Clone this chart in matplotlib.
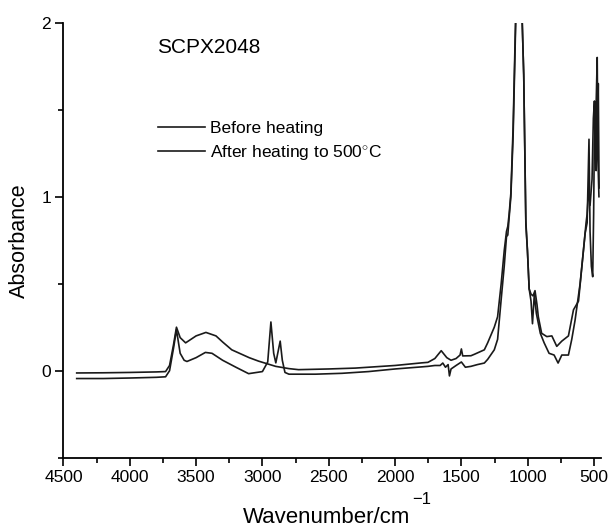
import numpy as np
import matplotlib
matplotlib.use("Agg")
import matplotlib.pyplot as plt
from matplotlib.ticker import MultipleLocator

plt.rcParams['font.family'] = ['Liberation Sans', 'DejaVu Sans']
plt.rcParams['mathtext.fontset'] = 'custom'
plt.rcParams['mathtext.rm'] = 'Liberation Sans'
plt.rcParams['mathtext.it'] = 'Liberation Sans'

# Before heating (with C-H bands near 2900)
before_wn = [4400, 4200, 4000, 3800, 3730, 3700, 3670, 3648, 3620, 3590, 3569, 3500, 3430,
             3380, 3300, 3200, 3104, 3000, 2960, 2936, 2915, 2899, 2866, 2850, 2830, 2800,
             2600, 2400, 2200, 2000, 1800, 1752, 1700, 1660, 1640, 1620, 1600, 1590, 1578,
             1540, 1500, 1470, 1428, 1380, 1327, 1302, 1252, 1227, 1200, 1177, 1160, 1150,
             1140, 1127, 1110, 1095, 1088, 1045, 1030, 1014, 1002, 989, 975, 964, 950, 935,
             905, 876, 839, 801, 771, 743, 693, 668, 643, 605, 567, 552, 538, 530, 520, 510,
             503, 498, 490, 484, 478, 470, 463]
before_abs = [-0.045, -0.045, -0.042, -0.038, -0.035, 0.0, 0.13, 0.235, 0.1, 0.06, 0.053, 0.075, 0.105,
              0.1, 0.06, 0.02, -0.017, -0.005, 0.05, 0.28, 0.1, 0.045, 0.17, 0.06, -0.01, -0.02,
              -0.02, -0.015, -0.005, 0.01, 0.022, 0.025, 0.03, 0.03, 0.044, 0.02, 0.035, -0.03, 0.01,
              0.03, 0.05, 0.02, 0.025, 0.035, 0.044, 0.065, 0.12, 0.18, 0.41, 0.6, 0.77, 0.78,
              0.88, 1.0, 1.35, 1.85, 2.1, 2.1, 1.7, 0.84, 0.69, 0.47, 0.4, 0.27, 0.44, 0.33,
              0.215, 0.16, 0.1, 0.09, 0.044, 0.09, 0.09, 0.18, 0.29, 0.5, 0.79, 0.85, 1.33, 0.8, 0.6, 0.54,
              0.9, 1.3, 1.45, 1.15, 1.5, 1.2, 1.0]

# After heating to 500 C (larger O-H hump, no C-H bands)
after_wn = [4400, 4200, 4000, 3800, 3730, 3700, 3670, 3648, 3620, 3579, 3500, 3426, 3350,
            3300, 3231, 3100, 3029, 2900, 2800, 2728, 2500, 2300, 2000, 1800, 1752, 1700,
            1652, 1610, 1578, 1540, 1510, 1500, 1490, 1428, 1400, 1327, 1302, 1252, 1227,
            1200, 1177, 1160, 1150, 1140, 1127, 1110, 1095, 1088, 1045, 1030, 1014, 1002,
            989, 975, 960, 945, 930, 920, 895, 856, 818, 781, 743, 693, 655, 617, 580, 560,
            552, 540, 530, 515, 505, 497, 490, 482, 476, 472, 468, 462]
after_abs = [-0.013, -0.012, -0.01, -0.007, -0.005, 0.03, 0.15, 0.25, 0.19, 0.16, 0.2, 0.22, 0.2,
             0.165, 0.12, 0.075, 0.055, 0.025, 0.012, 0.006, 0.01, 0.015, 0.03, 0.045, 0.048, 0.07,
             0.115, 0.075, 0.06, 0.07, 0.09, 0.125, 0.085, 0.086, 0.095, 0.12, 0.16, 0.25, 0.31,
             0.5, 0.69, 0.8, 0.83, 0.9, 1.02, 1.4, 1.9, 2.1, 2.1, 1.7, 0.86, 0.69,
             0.47, 0.44, 0.43, 0.46, 0.38, 0.31, 0.215, 0.196, 0.2, 0.14, 0.17, 0.2, 0.35, 0.4, 0.69, 0.85,
             0.9, 1.05, 0.95, 1.1, 1.45, 1.55, 1.35, 1.6, 1.8, 1.4, 1.65, 1.05]

fig = plt.figure(figsize=(6.1, 5.3), dpi=100)
ax = fig.add_axes([0.104, 0.1364, 0.882, 0.8208])

ax.plot(before_wn, before_abs, color='#1a1a1a', lw=1.2, label='Before heating')
ax.plot(after_wn, after_abs, color='#1a1a1a', lw=1.2, label='After heating to 500$^{\\circ}$C')

ax.set_xlim(4500, 444)
ax.set_ylim(-0.5, 2)
ax.xaxis.set_major_locator(MultipleLocator(500))
ax.xaxis.set_minor_locator(MultipleLocator(250))
ax.yaxis.set_major_locator(MultipleLocator(1))
ax.yaxis.set_minor_locator(MultipleLocator(0.5))
ax.tick_params(which='major', direction='out', length=5.5, width=1.2, labelsize=12.5)
ax.tick_params(which='minor', direction='out', length=3.5, width=1.2)

for s in ['top', 'right']:
    ax.spines[s].set_visible(False)
for s in ['left', 'bottom']:
    ax.spines[s].set_linewidth(1.3)

# x label with a raised exponent, as in the original
fig.text(327 / 610, 7 / 530, 'Wavenumber/cm', fontsize=16, ha='center', va='baseline')
fig.text(412 / 610, 26 / 530, '\u22121', fontsize=12, ha='left', va='baseline')
ax.set_ylabel('Absorbance', fontsize=15.5, labelpad=8)

ax.text(0.174, 0.944, 'SCPX2048', transform=ax.transAxes, fontsize=15, va='center')
ax.legend(loc='upper left', bbox_to_anchor=(0.162, 0.79), frameon=False, fontsize=12.5,
          handlelength=2.75, handletextpad=0.3, labelspacing=0.4, borderaxespad=0)

fig.savefig('out.png', dpi=100)
